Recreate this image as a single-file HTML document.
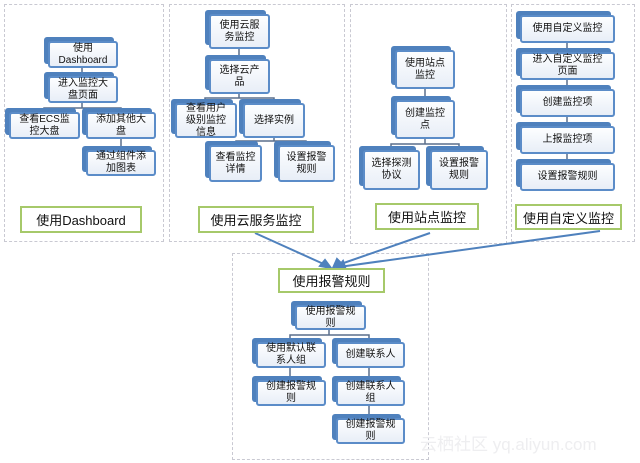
<!DOCTYPE html>
<html><head><meta charset="utf-8"><style>
body{margin:0;width:640px;height:463px;background:#fff;position:relative;overflow:hidden;font-family:"Liberation Sans","Noto Sans CJK SC",sans-serif;}
.p{position:absolute;border:1.5px dashed #c9c9d2;box-sizing:border-box;}
.n{position:absolute;box-sizing:border-box;}
.n::before{content:"";position:absolute;left:-4px;top:-4px;right:4px;bottom:4px;background:#4f81bd;border-radius:3px;}
.n span{position:absolute;left:0;top:0;right:0;bottom:0;background:linear-gradient(#fdfeff,#e8eef7);border:2px solid #5b8cc8;border-radius:3px;display:flex;align-items:center;justify-content:center;text-align:center;font-size:10px;line-height:12px;color:#111;padding:0 2px;}
.l{position:absolute;box-sizing:border-box;border:2px solid #a6c96a;background:#fff;display:flex;align-items:center;justify-content:center;font-size:13px;color:#111;}
svg{position:absolute;left:0;top:0;}
</style></head><body>
<div class="p" style="left:4px;top:4px;width:160px;height:238px"></div>
<div class="p" style="left:169px;top:4px;width:176px;height:238px"></div>
<div class="p" style="left:350px;top:4px;width:157px;height:240px"></div>
<div class="p" style="left:511px;top:4px;width:124px;height:238px"></div>
<div class="p" style="left:232px;top:253px;width:197px;height:207px"></div>
<svg width="640" height="463">
<g stroke="#5a6f8c" stroke-width="1.5" fill="none">
<path d="M82 68V76M82 103V108H44V112M82 108H121V112M121 139V150"/>
<path d="M239 49V59M239 94V98H205V103M239 98H274V103M274 138V141H236V145M274 141H306V145"/>
<path d="M425 89V100M425 139V144H391V150M425 144H459V150"/>
<path d="M567 43V52M567 80V89M567 117V126M567 154V163"/>
<path d="M329 330V335H290V340M329 335H369V340M290 368V378M369 368V378M369 406V416"/>
</g>
<g stroke="#4f81bd" stroke-width="2" fill="#4f81bd">
<line x1="255" y1="233" x2="328" y2="266"/>
<line x1="430" y1="233" x2="335" y2="266"/>
<line x1="600" y1="231" x2="339" y2="267"/>
<path d="M331 268L320 266L325 260Z"/>
<path d="M333 268L337 259L342 264Z"/>
<path d="M337 268L343 261L345 267Z"/>
</g>
</svg>
<div class="n" style="left:48px;top:41px;width:70px;height:27px"><span>使用<br>Dashboard</span></div>
<div class="n" style="left:48px;top:76px;width:70px;height:27px"><span>进入监控大<br>盘页面</span></div>
<div class="n" style="left:9px;top:112px;width:71px;height:27px"><span>查看ECS监<br>控大盘</span></div>
<div class="n" style="left:86px;top:112px;width:70px;height:27px"><span>添加其他大<br>盘</span></div>
<div class="n" style="left:86px;top:150px;width:70px;height:26px"><span>通过组件添<br>加图表</span></div>
<div class="l" style="left:20px;top:206px;width:122px;height:27px">使用Dashboard</div>

<div class="n" style="left:209px;top:14px;width:61px;height:35px"><span>使用云服<br>务监控</span></div>
<div class="n" style="left:209px;top:59px;width:61px;height:35px"><span>选择云产<br>品</span></div>
<div class="n" style="left:175px;top:103px;width:62px;height:35px"><span>查看用户<br>级别监控<br>信息</span></div>
<div class="n" style="left:243px;top:103px;width:62px;height:35px"><span>选择实例</span></div>
<div class="n" style="left:209px;top:145px;width:53px;height:37px"><span>查看监控<br>详情</span></div>
<div class="n" style="left:278px;top:145px;width:57px;height:37px"><span>设置报警<br>规则</span></div>
<div class="l" style="left:198px;top:206px;width:116px;height:27px">使用云服务监控</div>

<div class="n" style="left:395px;top:50px;width:60px;height:39px"><span>使用站点<br>监控</span></div>
<div class="n" style="left:395px;top:100px;width:60px;height:39px"><span>创建监控<br>点</span></div>
<div class="n" style="left:363px;top:150px;width:57px;height:40px"><span>选择探测<br>协议</span></div>
<div class="n" style="left:430px;top:150px;width:58px;height:40px"><span>设置报警<br>规则</span></div>
<div class="l" style="left:375px;top:203px;width:104px;height:27px">使用站点监控</div>

<div class="n" style="left:520px;top:15px;width:95px;height:28px"><span>使用自定义监控</span></div>
<div class="n" style="left:520px;top:52px;width:95px;height:28px"><span>进入自定义监控<br>页面</span></div>
<div class="n" style="left:520px;top:89px;width:95px;height:28px"><span>创建监控项</span></div>
<div class="n" style="left:520px;top:126px;width:95px;height:28px"><span>上报监控项</span></div>
<div class="n" style="left:520px;top:163px;width:95px;height:28px"><span>设置报警规则</span></div>
<div class="l" style="left:515px;top:204px;width:107px;height:26px">使用自定义监控</div>

<div class="l" style="left:278px;top:268px;width:107px;height:25px">使用报警规则</div>
<div class="n" style="left:295px;top:305px;width:71px;height:25px"><span>使用报警规<br>则</span></div>
<div class="n" style="left:256px;top:342px;width:70px;height:26px"><span>使用默认联<br>系人组</span></div>
<div class="n" style="left:336px;top:342px;width:69px;height:26px"><span>创建联系人</span></div>
<div class="n" style="left:256px;top:380px;width:70px;height:26px"><span>创建报警规<br>则</span></div>
<div class="n" style="left:336px;top:380px;width:69px;height:26px"><span>创建联系人<br>组</span></div>
<div class="n" style="left:336px;top:418px;width:69px;height:26px"><span>创建报警规<br>则</span></div>
<div style="position:absolute;left:420px;top:430px;font-size:17px;color:#eeeef0;white-space:nowrap">云栖社区 yq.aliyun.com</div>
</body></html>
